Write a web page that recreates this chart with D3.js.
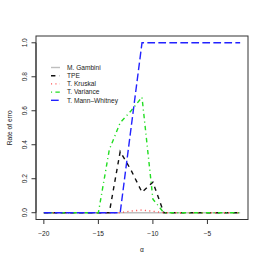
<!DOCTYPE html>
<html>
<head>
<meta charset="utf-8">
<script src="https://cdn.jsdelivr.net/npm/d3@7"></script>
<style>
  body { margin: 0; background: #fff; }
  text { font-family: "Liberation Sans", Arial, sans-serif; font-size: 6.6px; fill: #222; }
</style>
</head>
<body>
<div id="chart"></div>
<script>
// x values (alpha) and rate of error per test
const alphas = [-20, -19, -18, -17, -16, -15, -14, -13, -12, -11, -10, -9, -8, -7, -6, -5, -4, -3, -2];
const gambini = [0, 0, 0, 0, 0, 0, 0, 0, 0, 0, 0, 0, 0, 0, 0, 0, 0, 0, 0];
const tpe = [0, 0, 0, 0, 0, 0, 0, 0.36, 0.25, 0.12, 0.18, 0, 0, 0, 0, 0, 0, 0, 0];
const kruskal = [0, 0, 0, 0, 0, 0, 0, 0, 0.01, 0.016, 0.008, 0, 0, 0, 0, 0, 0, 0, 0];
const variance = [0, 0, 0, 0, 0, 0, 0.37, 0.53, 0.6, 0.68, 0.08, 0, 0, 0, 0, 0, 0, 0, 0];
const mannWhitney = [0, 0, 0, 0, 0, 0, 0, 0, 0.5, 1, 1, 1, 1, 1, 1, 1, 1, 1, 1];

const seriesNames = ['M. Gambini', 'TPE', 'T. Kruskal', 'T. Variance', 'T. Mann\u2013Whitney'];
const xTicks = [-20, -15, -10, -5];
const yTicks = [0, 0.2, 0.4, 0.6, 0.8, 1.0];

const series = [gambini, tpe, kruskal, variance, mannWhitney];
const styles = [
  { color: '#bebebe', dash: null },
  { color: '#111111', dash: '4.4,4.4' },
  { color: '#ff5555', dash: '1.1,3.3' },
  { color: '#22dd22', dash: '1.1,3.3,4.4,3.3' },
  { color: '#2222ff', dash: '7.7,3.3' },
];

const width = 266;
const height = 265;
const svg = d3.select('#chart').append('svg').attr('width', width).attr('height', height);

const box = { left: 36, right: 248, top: 36, bottom: 219.5 };

// R style 4% range extension
const xScale = d3.scaleLinear().domain([-20.72, -1.28]).range([box.left, box.right]);
const yScale = d3.scaleLinear().domain([-0.04, 1.04]).range([box.bottom, box.top]);

const line = d3
  .line()
  .x((d) => xScale(d[0]))
  .y((d) => yScale(d[1]));

series.forEach((vals, i) => {
  svg
    .append('path')
    .datum(alphas.map((a, j) => [a, vals[j]]))
    .attr('d', line)
    .attr('fill', 'none')
    .attr('stroke', styles[i].color)
    .attr('stroke-width', 1.4)
    .attr('stroke-dasharray', styles[i].dash);
});

// plot box
svg
  .append('rect')
  .attr('x', box.left)
  .attr('y', box.top)
  .attr('width', box.right - box.left)
  .attr('height', box.bottom - box.top)
  .attr('fill', 'none')
  .attr('stroke', '#333')
  .attr('stroke-width', 1);

// x axis
const xAxis = svg.append('g');
xAxis
  .append('line')
  .attr('x1', xScale(xTicks[0]))
  .attr('x2', xScale(xTicks[xTicks.length - 1]))
  .attr('y1', box.bottom)
  .attr('y2', box.bottom)
  .attr('stroke', '#333');
xAxis
  .selectAll('.xt')
  .data(xTicks)
  .enter()
  .append('line')
  .attr('x1', (d) => xScale(d))
  .attr('x2', (d) => xScale(d))
  .attr('y1', box.bottom)
  .attr('y2', box.bottom + 4.5)
  .attr('stroke', '#333');
xAxis
  .selectAll('.xl')
  .data(xTicks)
  .enter()
  .append('text')
  .attr('x', (d) => xScale(d))
  .attr('y', 236)
  .attr('text-anchor', 'middle')
  .text((d) => d3.format('d')(d));

// y axis
const yAxis = svg.append('g');
yAxis
  .append('line')
  .attr('x1', box.left)
  .attr('x2', box.left)
  .attr('y1', yScale(yTicks[0]))
  .attr('y2', yScale(yTicks[yTicks.length - 1]))
  .attr('stroke', '#333');
yAxis
  .selectAll('.yt')
  .data(yTicks)
  .enter()
  .append('line')
  .attr('x1', box.left)
  .attr('x2', box.left - 4.5)
  .attr('y1', (d) => yScale(d))
  .attr('y2', (d) => yScale(d))
  .attr('stroke', '#333');
yAxis
  .selectAll('.yl')
  .data(yTicks)
  .enter()
  .append('text')
  .attr('transform', (d) => `translate(27,${yScale(d)}) rotate(-90)`)
  .attr('text-anchor', 'middle')
  .text((d) => d3.format('.1f')(d));

// axis titles
svg
  .append('text')
  .attr('x', (box.left + box.right) / 2)
  .attr('y', 252)
  .attr('text-anchor', 'middle')
  .text('\u03b1');
svg
  .append('text')
  .attr('transform', `translate(12,${(box.top + box.bottom) / 2}) rotate(-90)`)
  .attr('text-anchor', 'middle')
  .text('Rate of erro');

// legend, no frame
const legend = svg.append('g').attr('transform', 'translate(51,67.5)');
seriesNames.forEach((name, i) => {
  const row = legend.append('g').attr('transform', `translate(0,${i * 8.2})`);
  row
    .append('line')
    .attr('x1', 0)
    .attr('x2', 9)
    .attr('stroke', styles[i].color)
    .attr('stroke-width', 1.4)
    .attr('stroke-dasharray', styles[i].dash);
  row.append('text').attr('x', 16).attr('dy', '0.35em').text(name);
});
</script>
</body>
</html>
